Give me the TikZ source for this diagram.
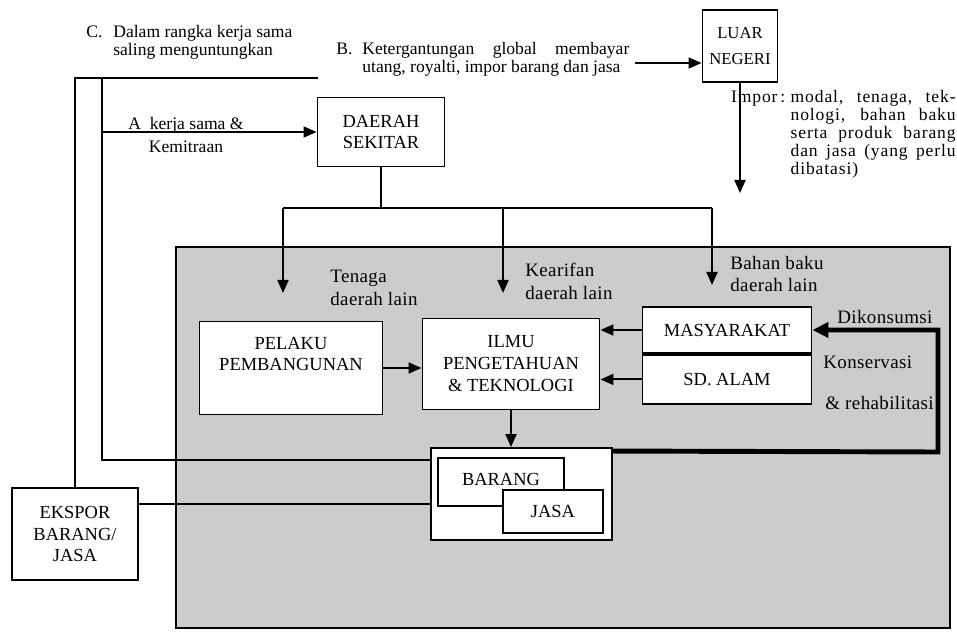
\documentclass[tikz,border=0pt]{standalone}
\usepackage{fontspec}
\setmainfont{Liberation Serif}
\usetikzlibrary{arrows.meta, positioning, calc}

\begin{document}
\begin{tikzpicture}[
  font=\fontsize{10.5}{12.5}\selectfont,
  garis/.style={draw=black, line width=1.1pt},
  panah/.style={garis, -{Triangle[length=2.6mm, width=2.2mm]}},
  panahtebal/.style={draw=black, line width=2.8pt, -{Triangle[length=3.2mm, width=3mm]}},
  kotak/.style={draw=black, line width=1.1pt, fill=white, inner sep=0pt, align=center},
  latar/.style={draw=black, line width=0.8pt, fill=black!20},
  keterangan/.style={inner sep=0pt, font=\fontsize{10}{10}\selectfont},
  labeldalam/.style={inner sep=0pt, align=left, font=\fontsize{10.8}{13}\selectfont\addfontfeature{LetterSpace=2}}
]
\useasboundingbox (0,0) rectangle (19.14,12.84);

% Wilayah (latar berbintik)
\draw[latar] (3.52,0.28) rectangle (19.00,7.90);

% Kotak
\node[kotak, minimum width=1.50cm, minimum height=1.44cm, font=\fontsize{9.5}{12}\selectfont] (luar) at (14.80,11.92) {LUAR\\[3pt]NEGERI};
\node[kotak, minimum width=2.54cm, minimum height=1.38cm] (daerah) at (7.62,10.20) {DAERAH\\SEKITAR};
\node[kotak, minimum width=3.66cm, minimum height=1.86cm] (pelaku) at (5.82,5.48) {};
\node[inner sep=0pt, align=center] (pelakuteks) at (5.82,5.76) {PELAKU\\PEMBANGUNAN};
\node[kotak, minimum width=3.54cm, minimum height=1.82cm] (ilmu) at (10.22,5.56) {ILMU\\PENGETAHUAN\\\& TEKNOLOGI};
\node[kotak, minimum width=3.38cm, minimum height=0.92cm] (masy) at (14.54,6.24) {MASYARAKAT};
\node[kotak, minimum width=3.38cm, minimum height=0.98cm, below=0pt of masy] (sdalam) {SD. ALAM};
\node[kotak, minimum width=3.62cm, minimum height=1.84cm] (bj) at (10.43,2.96) {};
\node[kotak, minimum width=2.52cm, minimum height=0.96cm, text depth=3pt] (barang) at (10.02,3.20) {BARANG};
\node[kotak, minimum width=2.00cm, minimum height=0.86cm] (jasa) at (11.06,2.61) {JASA};
\node[kotak, minimum width=2.52cm, minimum height=1.84cm] (ekspor) at (1.50,2.16) {EKSPOR\\BARANG/\\JASA};

% Keterangan di luar wilayah
\node[keterangan, anchor=north west] (labelC) at (1.72,12.34) {\begin{tabular}{@{}p{0.54cm}@{}l@{}}C. & Dalam rangka kerja sama\\ & saling menguntungkan\end{tabular}};
\node[keterangan, anchor=north west] (labelB) at (6.72,12.00) {\begin{tabular}{@{}p{0.52cm}@{}p{5.34cm}@{}}B. & Ketergantungan global membayar\linebreak utang, royalti, impor barang dan jasa\end{tabular}};
\node[keterangan, align=center] (labelA) at (3.72,10.14) {A\ \ kerja sama \&\\[3pt]Kemitraan};
\node[keterangan, anchor=north east, font=\fontsize{10}{10.3}\selectfont\addfontfeature{LetterSpace=5}] (labelImpor) at (19.12,11.06) {\begin{tabular}{@{}l@{\hspace{3pt}}p{3.30cm}@{}}Impor\,: & modal, tenaga, tek-\linebreak nologi, bahan baku\linebreak serta produk barang\linebreak dan jasa (yang perlu\linebreak dibatasi)\end{tabular}};

% Keterangan di dalam wilayah
\node[labeldalam, anchor=west] (tenaga) at (6.60,7.08) {Tenaga\\daerah lain};
\node[labeldalam, anchor=west] (kearifan) at (10.50,7.22) {Kearifan\\daerah lain};
\node[labeldalam, anchor=west] (bahanbaku) at (14.60,7.36) {Bahan baku\\daerah lain};
\node[labeldalam, anchor=west] (dikonsumsi) at (16.74,6.50) {Dikonsumsi};
\node[labeldalam, anchor=west] (konservasi) at (16.46,5.60) {Konservasi};
\node[labeldalam, anchor=west] (rehabilitasi) at (16.50,4.78) {\& rehabilitasi};

% Titik bantu
\coordinate (ujungC) at (6.36,11.28);
\coordinate (sudutA) at (2.04,11.28);
\coordinate (ujungB) at (12.70,11.58);
\coordinate (ujungImpor) at (14.80,8.98);
\coordinate (cabang) at (7.62,8.68);
\coordinate (cabangKiri) at (5.66,8.68);
\coordinate (cabangTengah) at (10.06,8.68);
\coordinate (cabangKanan) at (14.24,8.68);
\coordinate (ujungTenaga) at (5.66,6.98);
\coordinate (ujungKearifan) at (10.06,6.98);
\coordinate (ujungBahan) at (14.24,7.14);
\coordinate (putar) at (18.76,3.80);
\coordinate (eksporKanan) at ($(ekspor.east)+(0,0.60)$);

% Garis C dan A
\draw[garis] (ekspor.north) |- (ujungC);
\draw[garis] (sudutA) |- ($(bj.west)+(0,0.68)$);
\draw[panah] (daerah.west -| sudutA) -- (daerah.west);

% Luar negeri
\draw[panah] (ujungB) -- (ujungB -| luar.west);
\draw[panah] (luar.south) -- (ujungImpor);

% Daerah sekitar
\draw[garis] (daerah.south) -- (cabang);
\draw[garis] (cabangKiri) -- (cabangKanan);
\draw[panah] (cabangKiri) -- (ujungTenaga);
\draw[panah] (cabangTengah) -- (ujungKearifan);
\draw[panah] (cabangKanan) -- (ujungBahan);

% Di dalam wilayah
\draw[panah] (pelaku.east) -- (pelaku.east -| ilmu.west);
\draw[panah] (masy.west) -- (masy.west -| ilmu.east);
\draw[panah] (sdalam.west) -- (sdalam.west -| ilmu.east);
\draw[panah] (ilmu.south) -- (ilmu.south |- bj.north);
\draw[panahtebal] ($(bj.north east)+(0,-0.08)$) -- (putar) |- (masy.east);

% Ekspor
\draw[garis] (eksporKanan) -- (eksporKanan -| bj.west);

\end{tikzpicture}
\end{document}
